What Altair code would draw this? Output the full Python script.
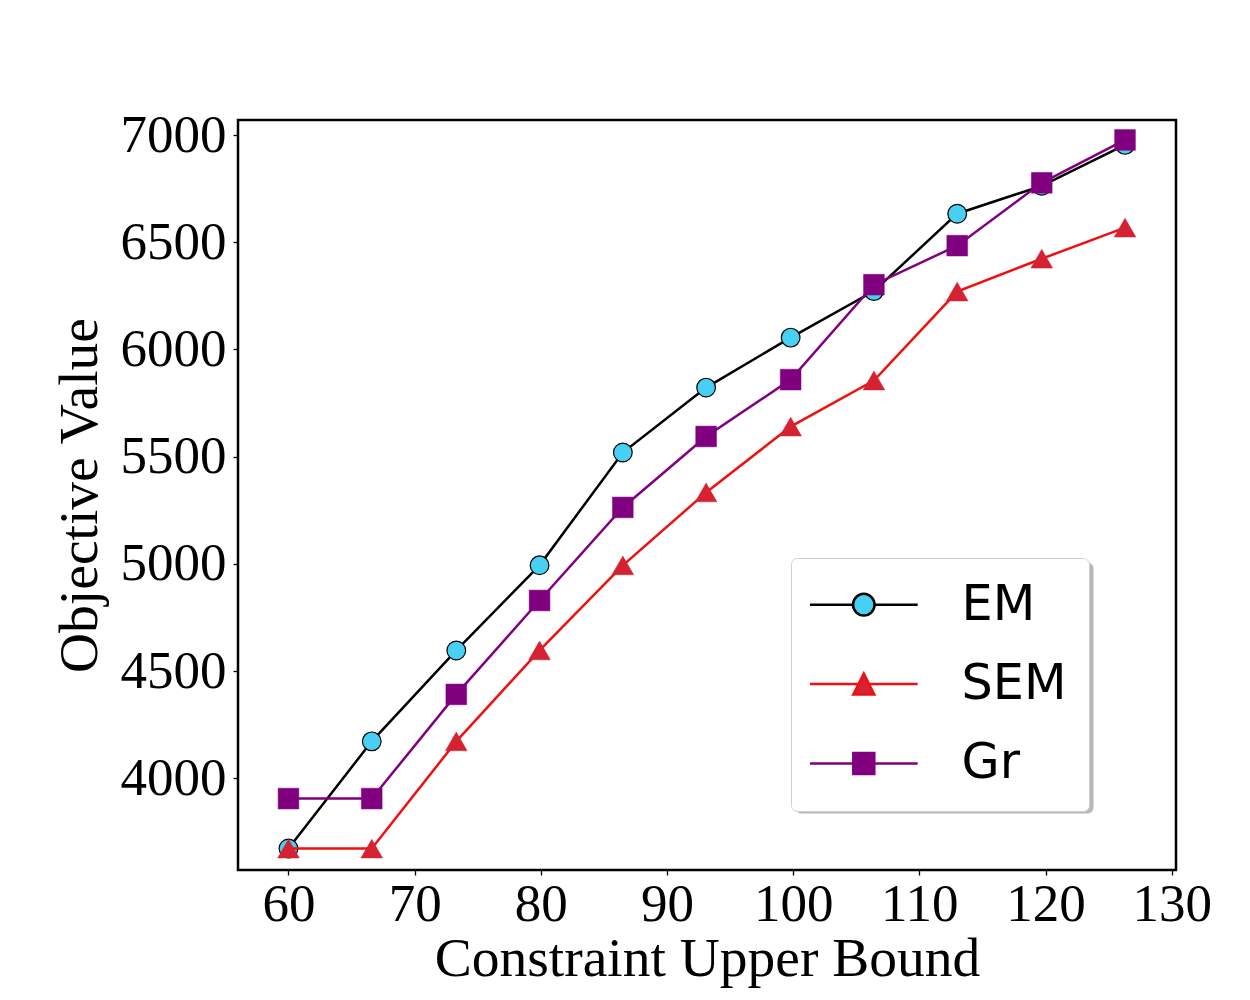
import altair as alt
import pandas as pd

# ---- data ----
x_vals = [60, 66.6, 73.3, 79.9, 86.5, 93.1, 99.8, 106.4, 113.0, 119.7, 126.3]
em_vals = [3672, 4172, 4596, 4993, 5519, 5822, 6055, 6272, 6633, 6763, 6954]
sem_vals = [3672, 3672, 4172, 4596, 4993, 5333, 5640, 5855, 6270, 6423, 6568]
gr_vals = [3905, 3905, 4391, 4829, 5263, 5594, 5859, 6302, 6484, 6777, 6977]
series_names = ["EM", "SEM", "Gr"]
x_ticks = [60, 70, 80, 90, 100, 110, 120, 130]
y_ticks = [4000, 4500, 5000, 5500, 6000, 6500, 7000]

rows = []
for name, vals in zip(series_names, [em_vals, sem_vals, gr_vals]):
    for xv, yv in zip(x_vals, vals):
        rows.append({"x": xv, "y": yv, "series": name})
df = pd.DataFrame(rows)

line_colors = {"EM": "black", "SEM": "#f01010", "Gr": "#800080"}
fill_colors = {"EM": "#47cff4", "SEM": "#d42232", "Gr": "#800080"}
edge_colors = {"EM": "black", "SEM": "#d42232", "Gr": "#800080"}
shapes = {"EM": "circle", "SEM": "triangle-up", "Gr": "square"}
sizes = {"EM": 350, "SEM": 470, "Gr": 430}
edge_w = {"EM": 1.2, "SEM": 0.5, "Gr": 0.5}

x_enc = alt.X("x:Q", scale=alt.Scale(domain=[56.0, 130.34], nice=False, zero=False),
              axis=alt.Axis(values=x_ticks, format="d", title="Constraint Upper Bound",
                            labelPadding=3, titlePadding=0))
y_enc = alt.Y("y:Q", scale=alt.Scale(domain=[3572, 7070], nice=False, zero=False),
              axis=alt.Axis(values=y_ticks, format="d", title="Objective Value",
                            labelPadding=7, titlePadding=12))

layers = []
for name in series_names:
    base = alt.Chart(df).transform_filter(alt.datum.series == name)
    layers.append(base.mark_line(color=line_colors[name], strokeWidth=2.5).encode(x=x_enc, y=y_enc))
    layers.append(base.mark_point(filled=True, shape=shapes[name], size=sizes[name],
                                  fill=fill_colors[name], stroke=edge_colors[name],
                                  strokeWidth=edge_w[name], opacity=1).encode(x=x_enc, y=y_enc))

LEG_X, LEG_Y = 553, 438

# drop shadow of the legend box: a one-entry legend whose symbol is a grey rounded box
shadow_path = "M6,0H292A6,6,0,0,1,298,6V245A6,6,0,0,1,292,251H6A6,6,0,0,1,0,245V6A6,6,0,0,1,6,0Z"
shadow_df = pd.DataFrame({"key": ["shadow"]})
shadow_layer = alt.Chart(shadow_df).transform_filter("false").mark_point(filled=True).encode(
    color=alt.Color("key:N", scale=alt.Scale(domain=["shadow"], range=["#b8b8b8"]),
                    legend=alt.Legend(
                        title=None, legendX=LEG_X + 3.5, legendY=LEG_Y + 3.5, padding=0,
                        fillColor="transparent", strokeColor="transparent",
                        symbolType=shadow_path, symbolSize=4, symbolOffset=0,
                        symbolStrokeWidth=0, symbolOpacity=1, symbolFillColor="#b8b8b8",
                        labelExpr="''", labelFontSize=1, labelOffset=0, zindex=0)),
)
layers.append(shadow_layer)

# legend symbols: line with marker (custom paths, scale = sqrt(400)/2 = 10px per unit)
legend_paths = [
    "M-5.385,0H-1.08M1.08,0H5.385M1.08,0A1.08,1.08,0,1,1,-1.08,0A1.08,1.08,0,1,1,1.08,0Z",
    "M-5.385,0H-0.53M0.53,0H5.385M0,-1.05L1.05,1.05L-1.05,1.05Z",
    "M-5.385,0H-1.05M1.05,0H5.385M-1.05,-1.05H1.05V1.05H-1.05Z",
]
legend_df = pd.DataFrame({"series": series_names})
legend_layer = alt.Chart(legend_df).transform_filter("false").mark_point(filled=True).encode(
    shape=alt.Shape("series:N", scale=alt.Scale(domain=series_names, range=legend_paths),
                    legend=alt.Legend(title=None)),
    fill=alt.Fill("series:N", scale=alt.Scale(domain=series_names,
                                              range=[fill_colors[n] for n in series_names]),
                  legend=alt.Legend(title=None)),
    stroke=alt.Stroke("series:N", scale=alt.Scale(domain=series_names,
                                                  range=[line_colors[n] for n in series_names]),
                      legend=alt.Legend(title=None)),
)
layers.append(legend_layer)

chart = alt.layer(*layers).properties(
    width=938, height=750,
    autosize=alt.AutoSizeParams(type="none"),
    padding={"left": 230, "top": 112, "right": 60, "bottom": 120},
    background="white",
).configure_view(
    stroke="black", strokeWidth=2.5
).configure_axis(
    grid=False, domain=False, ticks=True, tickSize=5, tickWidth=1.3, tickColor="black",
    labelFont="Liberation Serif", labelFontSize=53, labelColor="black",
    titleFont="Liberation Serif", titleFontSize=55.5, titleFontWeight="normal", titleColor="black",
    labelFlush=False, labelOverlap=False,
).configure_legend(
    orient="none", legendX=LEG_X, legendY=LEG_Y,
    padding=22, rowPadding=29.4, labelOffset=73.1, symbolOffset=26.15,
    symbolSize=400, symbolStrokeWidth=2.5, symbolOpacity=1,
    labelFont="DejaVu Sans", labelFontSize=49.3, labelColor="black", labelLimit=0,
    fillColor="white", strokeColor="#d0d0d0", strokeWidth=1, cornerRadius=6,
)

chart.save("out.html", embed_options={"renderer": "svg", "actions": False})
